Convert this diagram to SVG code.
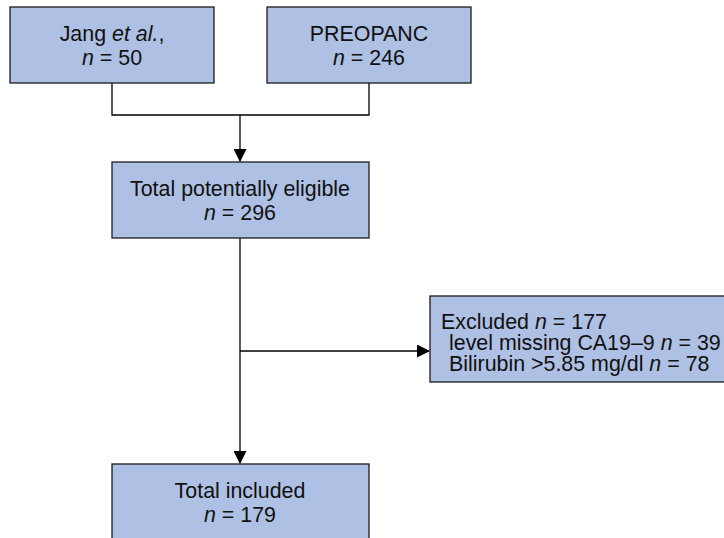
<svg xmlns="http://www.w3.org/2000/svg" width="724" height="538" viewBox="0 0 724 538">
<defs>
<style>
.box{fill:#AEC0E3;stroke:#1a1a1a;stroke-width:1.3}
.t{font-family:"Liberation Sans",Arial,sans-serif;font-size:21.4px;fill:#111}
.c{text-anchor:middle}
.ln{fill:none;stroke:#000;stroke-width:1.3}
</style>
<marker id="ah" markerWidth="13" markerHeight="13" refX="12" refY="6.5" orient="auto" markerUnits="userSpaceOnUse">
<path d="M0,0 L13,6.5 L0,13 Z" fill="#000"/>
</marker>
</defs>
<rect width="724" height="538" fill="#fff"/>
<g id="connectors">
<polyline class="ln" points="112,83 112,115 369,115 369,83"/>
<line class="ln" x1="240" y1="115" x2="240" y2="161" marker-end="url(#ah)"/>
<line class="ln" x1="240" y1="238" x2="240" y2="463" marker-end="url(#ah)"/>
<line class="ln" x1="240" y1="351" x2="429" y2="351" marker-end="url(#ah)"/>
</g>
<g id="jang">
<rect class="box" x="10" y="7" width="204" height="76"/>
<text class="t c" x="112" y="41">Jang <tspan font-style="italic">et al.</tspan>,</text>
<text class="t c" x="112" y="64.5"><tspan font-style="italic">n</tspan> = 50</text>
</g>
<g id="preopanc">
<rect class="box" x="267" y="7" width="204" height="76"/>
<text class="t c" x="369" y="41">PREOPANC</text>
<text class="t c" x="369" y="64.5"><tspan font-style="italic">n</tspan> = 246</text>
</g>
<g id="eligible">
<rect class="box" x="112" y="162" width="257" height="76"/>
<text class="t c" x="240" y="196">Total potentially eligible</text>
<text class="t c" x="240" y="219.5"><tspan font-style="italic">n</tspan> = 296</text>
</g>
<g id="excluded">
<rect class="box" x="430" y="296" width="300" height="86"/>
<text class="t" x="441" y="329">Excluded <tspan font-style="italic">n</tspan> = 177</text>
<text class="t" x="449" y="350">level missing CA19–9 <tspan font-style="italic">n</tspan> = 39</text>
<text class="t" x="449" y="371">Bilirubin &gt;5.85 mg/dl <tspan font-style="italic">n</tspan> = 78</text>
</g>
<g id="included">
<rect class="box" x="112" y="464" width="257" height="80"/>
<text class="t c" x="240" y="498">Total included</text>
<text class="t c" x="240" y="521.5"><tspan font-style="italic">n</tspan> = 179</text>
</g>
</svg>
